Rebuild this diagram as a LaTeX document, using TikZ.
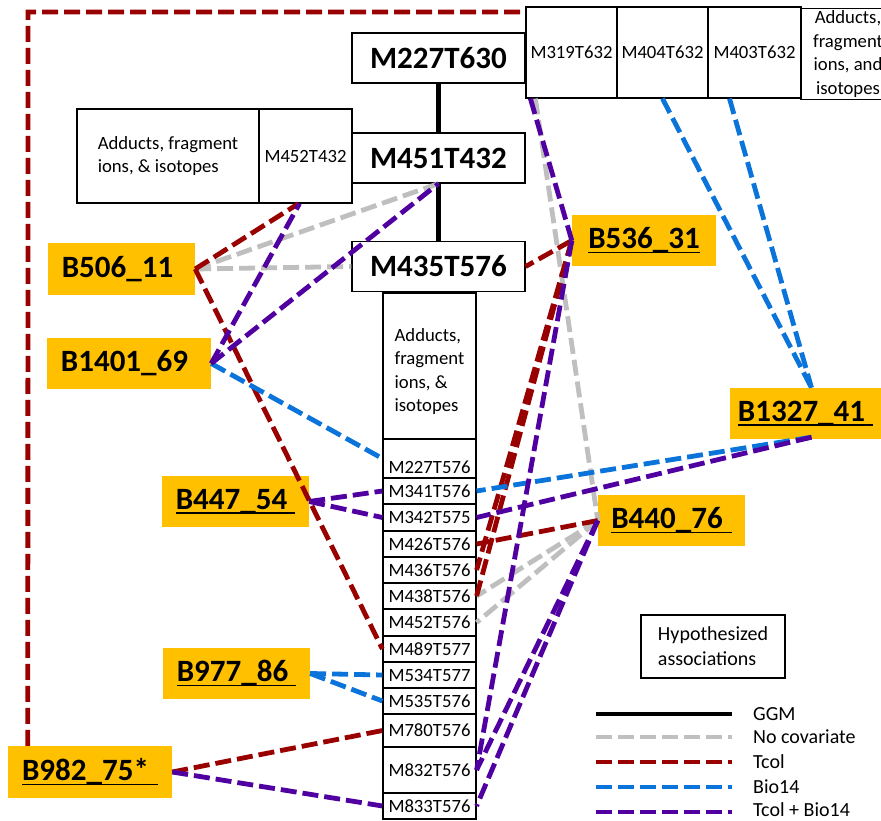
\documentclass[tikz,border=0pt]{standalone}
\usepackage{fontspec}
\setmainfont{Carlito}
\usetikzlibrary{calc}
\definecolor{yel}{HTML}{FFC000}
\definecolor{cgrey}{HTML}{BFBFBF}
\definecolor{cred}{HTML}{990000}
\definecolor{cblue}{HTML}{0A74DA}
\definecolor{cpurp}{HTML}{5000A0}
\newcommand\bigbf{\fontsize{31}{36}\selectfont\bfseries}
\newcommand\smalltxt{\fontsize{18.7}{23.6}\selectfont}
\newcommand\legtxt{\fontsize{20}{25}\selectfont}
\newcommand\myul[1]{\setbox0=\hbox{#1}\rlap{\rule[-4.5pt]{\wd0}{1.8pt}}\box0}
\tikzset{
  mbox/.style={draw, line width=1.2pt, fill=white, inner sep=0pt, font=\bigbf, minimum width=173pt, minimum height=50pt},
  cell/.style={draw, line width=1.2pt, fill=white, inner sep=0pt, font=\smalltxt, minimum width=93pt},
  ybox/.style={fill=yel, inner sep=0pt, font=\bigbf, minimum height=51pt},
  conn/.style={line width=4.8pt, dash pattern=on 16pt off 6pt},
  nocov/.style={conn, cgrey},
  tcol/.style={conn, cred},
  bio/.style={conn, cblue},
  both/.style={conn, cpurp},
  ggm/.style={line width=4.8pt, black},
  leglabel/.style={anchor=west, inner sep=0pt, font=\legtxt}
}
\begin{document}
\begin{tikzpicture}[x=1pt,y=-1pt]
\useasboundingbox (0,0) rectangle (881,821);
% central chain
\node[mbox] (m227) at (438.5,58) {M227T630};
\node[mbox] (m451) at (438.5,158) {M451T432};
\node[mbox] (m435) at (438.5,266.5) {M435T576};
% left adducts table
\node[cell, minimum width=182pt, minimum height=94pt, align=left] (addL) at (168,156) {Adducts, fragment\\ions, \& isotopes};
\node[cell, minimum height=94pt] (m452) at (305.5,156) {M452T432};
% top right table
\node[cell, minimum width=91pt, minimum height=91pt] (m319) at (571.5,52.5) {M319T632};
\node[cell, minimum width=91pt, minimum height=91pt] (m404) at (662.5,52.5) {M404T632};
\node[cell, minimum width=93pt, minimum height=91pt] (m403) at (754.5,52.5) {M403T632};
\node[cell, minimum width=94pt, minimum height=91pt, align=center] (addTR) at (848,54) {Adducts,\\fragment\\ions, and\\isotopes};
% central column
\node[cell, minimum height=146pt, align=left] (addC) at (429.5,366) {\raisebox{-10pt}[0pt][0pt]{\begin{tabular}{@{}l@{}}Adducts,\\fragment\\ions, \&\\isotopes\end{tabular}}};
\node[cell, minimum height=39pt] (m227c) at (429.5,458.5) {\raisebox{-15pt}[0pt][0pt]{M227T576}};
\node[cell, minimum height=26pt] (m341) at (429.5,491) {M341T576};
\node[cell, minimum height=27pt] (m342) at (429.5,517.5) {M342T575};
\node[cell, minimum height=26pt] (m426) at (429.5,544) {M426T576};
\node[cell, minimum height=26pt] (m436) at (429.5,570) {M436T576};
\node[cell, minimum height=26pt] (m438c) at (429.5,596) {M438T576};
\node[cell, minimum height=27pt] (m452c) at (429.5,622.5) {M452T576};
\node[cell, minimum height=26pt] (m489) at (429.5,649) {M489T577};
\node[cell, minimum height=26pt] (m534) at (429.5,675) {M534T577};
\node[cell, minimum height=26pt] (m535) at (429.5,701) {M535T576};
\node[cell, minimum height=33pt] (m780) at (429.5,730.5) {M780T576};
\node[cell, minimum height=46pt] (m832) at (429.5,770) {M832T576};
\node[cell, minimum height=26pt] (m833) at (429.5,806) {M833T576};
% yellow boxes
\node[ybox, minimum width=147pt, minimum height=52pt] (b506) at (121.5,269) {B506\_11\kern8pt};
\node[ybox, minimum width=164pt] (b1401) at (129,363.5) {B1401\_69\kern9pt};
\node[ybox, minimum width=147pt] (b447) at (235.5,501.5) {\myul{B447\_54\kern8pt}};
\node[ybox, minimum width=147pt] (b977) at (236.5,673.5) {\myul{B977\_86\kern8pt}};
\node[ybox, minimum width=164pt, minimum height=52pt] (b982) at (90,772) {\myul{B982\_75*\kern9pt}};
\node[ybox, minimum width=144pt] (b536) at (644,240.5) {\myul{B536\_31}};
\node[ybox, minimum width=151pt] (b1327) at (805.5,413.5) {\myul{B1327\_41\kern8pt}};
\node[ybox, minimum width=147pt] (b440) at (671.5,520.5) {\myul{B440\_76\kern9pt}};
% GGM edges
\draw[ggm] (m227.south) -- (m451.north);
\draw[ggm] (m451.south) -- (m435.north);
% outer red border
\coordinate (topc) at (28,12);
\draw[tcol] ([xshift=20pt]b982.north west) -- (topc) -- (topc -| m319.west);
% no covariate
\draw[nocov] (b506.east) -- (m451.south);
\draw[nocov] (b506.east) -- (m435.west);
\draw[nocov] ([xshift=10pt]m319.south west) -- (b440.west);
\draw[nocov] (b440.west) -- (m438c.east);
\draw[nocov] (b440.west) -- (m452c.east);
% Tcol
\draw[tcol] (b506.east) -- ([xshift=-7pt]m452.south);
\draw[tcol] (b506.east) -- (m489.west);
\draw[tcol] (b982.east) -- (m780.west);
\draw[tcol] (b536.west) -- (m435.east);
\draw[tcol] (b536.west) -- (m436.east);
\draw[tcol] (b536.west) -- (m438c.east);
\draw[tcol] (b440.west) -- (m426.east);
% Bio14
\draw[bio] (b1401.east) -- (m227c.west);
\draw[bio] (b977.east) -- (m534.west);
\draw[bio] (b977.east) -- (m535.west);
\draw[bio] (m404.south) -- ([xshift=6pt]b1327.north);
\draw[bio] ([xshift=-25pt]m403.south) -- ([xshift=6pt]b1327.north);
\draw[bio] ([xshift=6pt,yshift=2pt]b1327.south) -- (m341.east);
% Tcol + Bio14
\draw[both] (b1401.east) -- ([xshift=-6pt]m452.south);
\draw[both] (b1401.east) -- (m451.south);
\draw[both] (b447.east) -- (m341.west);
\draw[both] (b447.east) -- (m342.west);
\draw[both] (b982.east) -- (m833.west);
\draw[both] ([xshift=5pt]m319.south west) -- (b536.west);
\draw[both] (b536.west) -- (m832.east);
\draw[both] (b440.west) -- (m832.east);
\draw[both] (b440.west) -- (m833.east);
\draw[both] ([xshift=6pt,yshift=2pt]b1327.south) -- (m342.east);
% legend
\node[draw, line width=1.2pt, inner sep=0pt, minimum width=144pt, minimum height=63pt, align=left, font=\legtxt] (lgbox) at (713,646.5) {Hypothesized\\associations};
\coordinate (l1a) at (596,714); \coordinate (l1b) at (732,714);
\coordinate (l2a) at (596,737); \coordinate (l2b) at (732,737);
\coordinate (l3a) at (596,762); \coordinate (l3b) at (732,762);
\coordinate (l4a) at (596,787); \coordinate (l4b) at (732,787);
\coordinate (l5a) at (596,812); \coordinate (l5b) at (732,812);
\draw[ggm] (l1a) -- (l1b);
\draw[nocov] (l2a) -- (l2b);
\draw[tcol] (l3a) -- (l3b);
\draw[bio] (l4a) -- (l4b);
\draw[both] (l5a) -- (l5b);
\node[leglabel] (lg1) at (753,714) {GGM};
\node[leglabel] (lg2) at (753,737) {No covariate};
\node[leglabel] (lg3) at (753,762) {Tcol};
\node[leglabel] (lg4) at (753,787) {Bio14};
\node[leglabel] (lg5) at (753,810) {Tcol + Bio14};
\end{tikzpicture}
\end{document}
